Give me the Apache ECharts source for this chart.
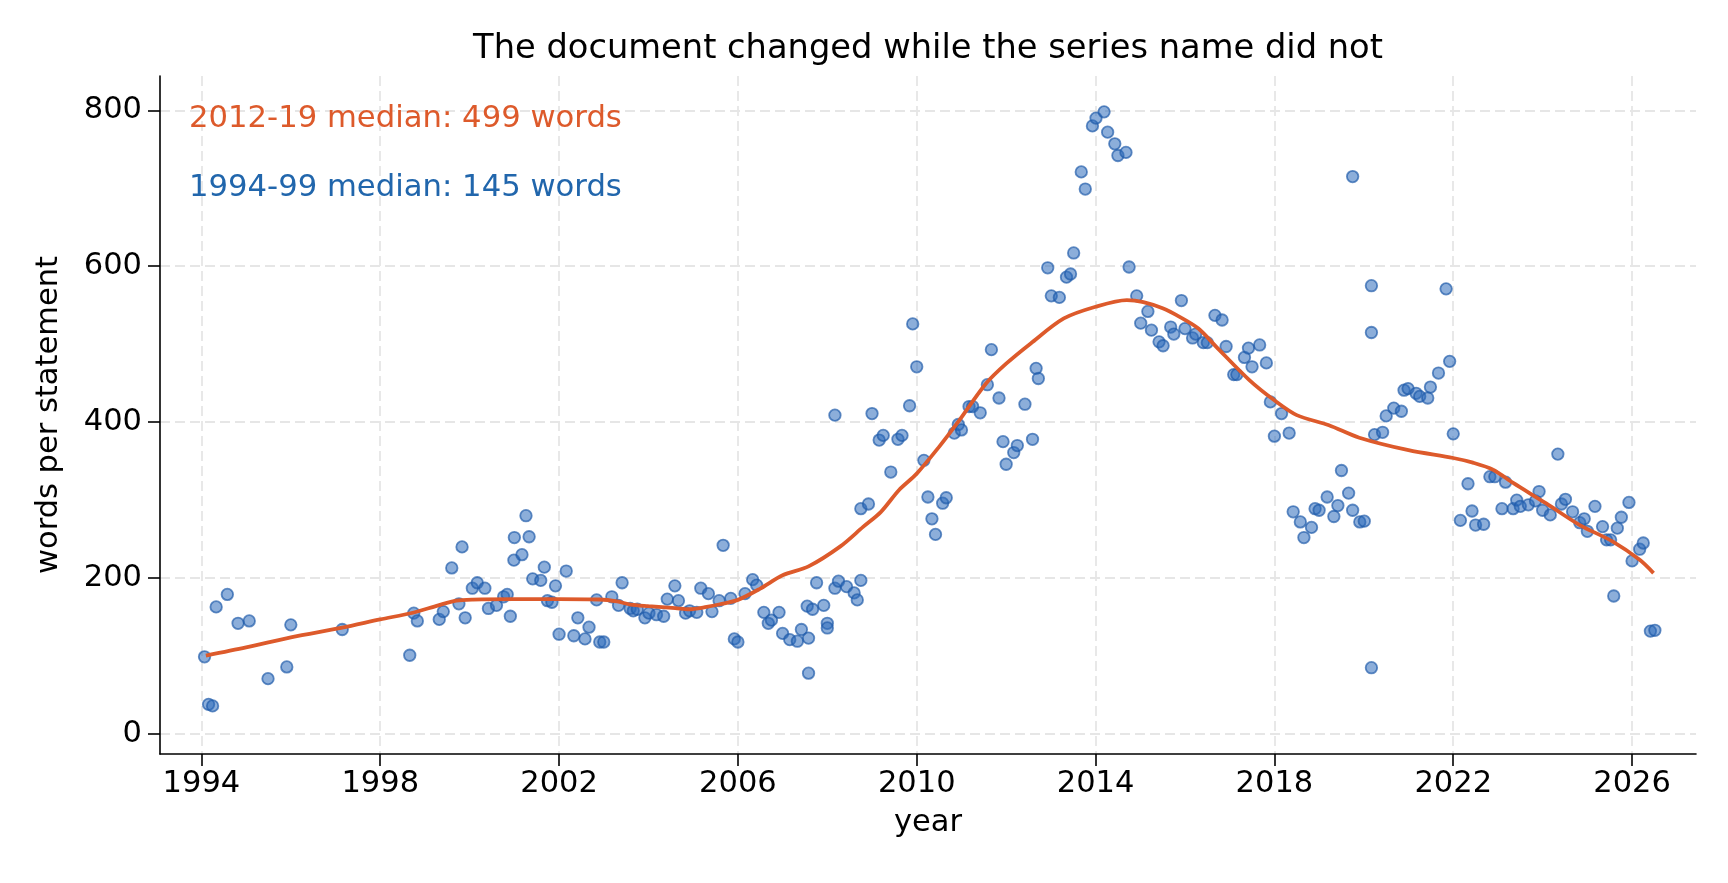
<!DOCTYPE html>
<html>
<head>
<meta charset="utf-8">
<script src="https://cdn.jsdelivr.net/npm/echarts@6/dist/echarts.min.js"></script>
<style>
html,body{margin:0;padding:0;background:#fff;}
#chart{width:1728px;height:883px;}
</style>
</head>
<body>
<div id="chart"></div>
<script>
// ---- data ----
const pointYears = [
1994.07,1994.16,1994.25,1994.33,1994.58,1994.82,1995.07,1995.49,1995.91,1996.0,
1997.15,1998.66,1998.75,1998.83,1999.32,1999.41,1999.6,1999.76,1999.83,1999.9,
2000.06,2000.17,2000.34,2000.42,2000.6,2000.76,2000.84,2000.91,2000.99,2001.0,
2001.17,2001.26,2001.33,2001.41,2001.59,2001.67,2001.74,2001.84,2001.92,2002.0,
2002.16,2002.33,2002.42,2002.58,2002.67,2002.84,2002.91,2003.0,2003.18,2003.33,
2003.41,2003.59,2003.66,2003.75,2003.92,2004.01,2004.18,2004.34,2004.42,2004.59,
2004.67,2004.83,2004.92,2005.08,2005.17,2005.34,2005.42,2005.58,2005.67,2005.84,
2005.92,2006.0,2006.16,2006.33,2006.42,2006.58,2006.68,2006.75,2006.92,2007.0,
2007.16,2007.33,2007.42,2007.58,2007.58,2007.55,2007.67,2007.76,2007.92,2008.0,
2008.0,2008.17,2008.17,2008.25,2008.43,2008.6,2008.67,2008.75,2008.75,2008.92,
2009.0,2009.16,2009.25,2009.42,2009.58,2009.67,2009.84,2009.91,2010.0,2010.16,
2010.25,2010.34,2010.42,2010.58,2010.66,2010.84,2010.93,2011.0,2011.17,2011.25,
2011.42,2011.58,2011.67,2011.84,2011.93,2012.0,2012.17,2012.25,2012.42,2012.59,
2012.67,2012.72,2012.93,2013.01,2013.19,2013.35,2013.44,2013.51,2013.68,2013.77,
2013.93,2014.01,2014.19,2014.27,2014.43,2014.5,2014.68,2014.75,2014.92,2015.01,
2015.17,2015.25,2015.42,2015.51,2015.68,2015.75,2015.92,2016.0,2016.17,2016.24,
2016.41,2016.5,2016.67,2016.83,2016.92,2017.09,2017.16,2017.33,2017.42,2017.5,
2017.67,2017.82,2017.91,2018.0,2018.16,2018.33,2018.42,2018.58,2018.66,2018.83,
2018.91,2019.0,2019.18,2019.33,2019.42,2019.5,2019.66,2019.75,2019.75,2019.91,
2020.01,2020.17,2020.17,2020.17,2020.24,2020.42,2020.5,2020.67,2020.84,2020.9,
2020.99,2021.17,2021.25,2021.43,2021.49,2021.67,2021.84,2021.92,2022.0,2022.16,
2022.33,2022.42,2022.5,2022.68,2022.82,2022.93,2023.09,2023.17,2023.34,2023.42,
2023.5,2023.68,2023.84,2023.92,2024.0,2024.17,2024.34,2024.42,2024.51,2024.67,
2024.83,2024.93,2025.0,2025.17,2025.34,2025.43,2025.52,2025.59,2025.67,2025.76,
2025.93,2026.0,2026.17,2026.25,2026.41,2026.51
];
const pointWords = [
99,38,36,163,179,142,145,71,86,140,
134,101,155,145,147,157,213,167,240,149,
187,194,187,161,165,176,179,151,223,252,
230,280,253,199,197,214,171,169,190,128,
209,126,149,122,137,172,118,118,176,165,
194,161,158,160,149,155,153,151,173,190,
171,155,158,156,187,180,157,171,242,174,
122,118,180,198,191,156,142,146,156,129,
121,119,134,123,78,164,160,194,165,142,
136,409,187,196,189,181,172,197,289,295,
411,377,383,336,378,383,421,526,471,351,
304,276,256,296,303,386,397,390,420,420,
412,448,493,431,375,346,361,370,423,378,
469,456,598,562,560,586,590,617,721,699,
780,790,798,772,757,742,746,599,562,527,
542,518,503,498,522,513,556,520,508,513,
502,502,537,531,497,461,461,483,495,471,
499,476,426,382,411,386,285,272,252,265,
289,287,304,279,293,338,309,715,287,272,
273,575,515,85,384,387,408,418,414,441,
443,437,433,431,445,463,571,478,385,274,
321,286,268,269,330,330,289,323,289,300,
292,294,299,311,287,281,359,295,301,285,
271,276,260,292,266,249,249,177,264,278,
297,222,237,245,132,133
];
const trendYears = [
1994.1,1995.0,1996.0,1997.15,1998.0,1998.73,1999.3,1999.7,2000.07,2001.0,
2002.0,2002.9,2003.3,2003.6,2004.0,2004.6,2004.9,2005.3,2005.6,2006.0,
2006.5,2007.0,2007.58,2008.3,2008.8,2009.2,2009.6,2010.0,2010.5,2010.9,
2011.55,2012.0,2012.55,2013.29,2014.0,2014.7,2015.07,2015.5,2015.88,2016.3,
2016.7,2017.44,2018.0,2018.5,2019.22,2019.9,2021.0,2022.0,2022.44,2022.89,
2023.34,2024.08,2024.83,2025.57,2026.17,2026.48
];
const trendWords = [
100.5,111,124,136.5,147,155.5,165,171,172.4,173,
173,172.5,170,166,164,161.5,160,163,166.4,172,
186.5,203.6,215,241,265.6,285,312.7,334,368.3,398.3,
449.6,475,501,533,548,556.5,554,546,535,520,
496.6,454,428,409,396,380,364,354,348,339,
322,295.7,268,246.8,223.4,206.4
];
const xTicks = [1994,1998,2002,2006,2010,2014,2018,2022,2026];
const yTicks = [0,200,400,600,800];
const titleText = 'The document changed while the series name did not';
const noteRecent = '2012-19 median: 499 words';
const noteEarly = '1994-99 median: 145 words';

// ---- chart ----
const ORANGE = '#dd5a2b';
const BLUE_TXT = '#2166ac';
const FONT = '"DejaVu Sans", sans-serif';
const chart = echarts.init(document.getElementById('chart'), null, {renderer: 'canvas'});
const gridStyle = {show: true, lineStyle: {color: '#e6e6e6', width: 1.8, type: [10, 5]}};
const option = {
  backgroundColor: '#ffffff',
  animation: false,
  grid: {left: 160, right: 32, top: 76, bottom: 129, containLabel: false},
  xAxis: {
    type: 'value', min: 1993.074, max: 2027.43,
    name: 'year', nameLocation: 'middle', nameGap: 54,
    nameTextStyle: {fontFamily: FONT, fontSize: 30.5, color: '#000'},
    axisLine: {show: true, onZero: false, lineStyle: {color: '#000', width: 1.6}},
    axisTick: {show: true, inside: false, length: 12, lineStyle: {color: '#000', width: 1.6}, customValues: xTicks},
    axisLabel: {customValues: xTicks, margin: 15, fontFamily: FONT, fontSize: 30.5, color: '#000', formatter: v => String(v)},
    splitLine: gridStyle
  },
  yAxis: {
    type: 'value', min: -25.67, max: 844,
    name: 'words per statement', nameLocation: 'middle', nameRotate: 90, nameGap: 95,
    nameTextStyle: {fontFamily: FONT, fontSize: 30.5, color: '#000'},
    axisLine: {show: true, onZero: false, lineStyle: {color: '#000', width: 1.6}},
    axisTick: {show: true, inside: false, length: 12, lineStyle: {color: '#000', width: 1.6}, customValues: yTicks},
    axisLabel: {customValues: yTicks, margin: 18, fontFamily: FONT, fontSize: 30.5, color: '#000', formatter: v => String(v)},
    splitLine: gridStyle
  },
  graphic: [
    {type: 'text', x: 928, y: 49.5, z: 10, style: {text: titleText, fill: '#000', font: '33.7px ' + FONT, align: 'center', verticalAlign: 'middle'}},
    {type: 'text', x: 189, y: 118.7, z: 10, style: {text: noteRecent, fill: ORANGE, font: '30.7px ' + FONT, align: 'left', verticalAlign: 'middle'}},
    {type: 'text', x: 189, y: 187.7, z: 10, style: {text: noteEarly, fill: BLUE_TXT, font: '30.7px ' + FONT, align: 'left', verticalAlign: 'middle'}}
  ],
  series: [
    {
      type: 'scatter', name: 'statements',
      data: pointYears.map((y, i) => [y, pointWords[i]]),
      symbol: 'circle', symbolSize: 11.5,
      itemStyle: {color: 'rgba(42,106,186,0.68)', borderColor: 'rgba(30,90,168,0.85)', borderWidth: 1.8},
      z: 2
    },
    {
      type: 'line', name: 'trend',
      data: trendYears.map((y, i) => [y, trendWords[i]]),
      smooth: 0.3, showSymbol: false, symbol: 'none',
      lineStyle: {color: ORANGE, width: 3.8},
      z: 3
    }
  ]
};
chart.setOption(option);
</script>
</body>
</html>
